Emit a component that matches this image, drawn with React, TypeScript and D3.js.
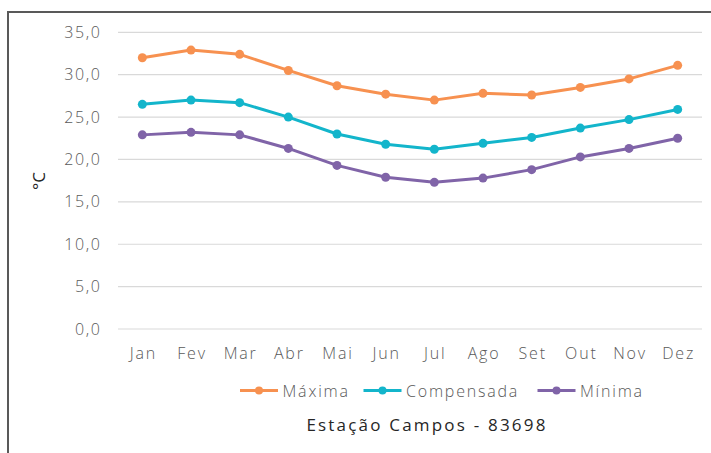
import React, { useEffect, useRef } from "react";
import * as d3 from "d3";

const months = ["Jan", "Fev", "Mar", "Abr", "Mai", "Jun", "Jul", "Ago", "Set", "Out", "Nov", "Dez"];
const maxima = [32.0, 32.9, 32.4, 30.5, 28.7, 27.7, 27.0, 27.8, 27.6, 28.5, 29.5, 31.1];
const compensada = [26.5, 27.0, 26.7, 25.0, 23.0, 21.8, 21.2, 21.9, 22.6, 23.7, 24.7, 25.9];
const minima = [22.9, 23.2, 22.9, 21.3, 19.3, 17.9, 17.3, 17.8, 18.8, 20.3, 21.3, 22.5];
const yTicks = [0, 5, 10, 15, 20, 25, 30, 35];
const seriesNames = ["Máxima", "Compensada", "Mínima"];
const seriesColors = ["#F79150", "#13B5CB", "#8064A8"];

const FONT = "'Open Sans', Lato, sans-serif";

export default function App() {
  const ref = useRef<SVGSVGElement>(null);

  useEffect(() => {
    const width = 711,
      height = 453;
    const left = 118,
      right = 702,
      top = 32.3,
      bottom = 329;

    const svg = d3.select(ref.current).attr("width", width).attr("height", height);
    svg.selectAll("*").remove();

    // frame (only top and left edges visible)
    svg.append("path").attr("d", "M8,453 L8,12 L711,12").attr("fill", "none").attr("stroke", "#595959").attr("stroke-width", 2);

    const x = d3.scaleBand().domain(months).range([left, right]);
    const y = d3.scaleLinear().domain([0, 35]).range([bottom, top]);

    const g = svg.append("g");

    g.selectAll(".grid")
      .data(yTicks)
      .join("line")
      .attr("x1", left)
      .attr("x2", right)
      .attr("y1", (d) => y(d))
      .attr("y2", (d) => y(d))
      .attr("stroke", "#D9D9D9")
      .attr("stroke-width", 1.2);

    g.selectAll(".ylab")
      .data(yTicks)
      .join("text")
      .attr("x", 101.5)
      .attr("y", (d) => y(d) + 5.5)
      .attr("text-anchor", "end")
      .style("font-family", FONT)
      .style("font-size", "16px")
      .style("font-weight", 300)
      .style("letter-spacing", "1.6px")
      .attr("fill", "#595959")
      .text((d) => d.toFixed(1).replace(".", ","));

    g.selectAll(".xlab")
      .data(months)
      .join("text")
      .attr("x", (d) => x(d)! + x.bandwidth() / 2 + 1)
      .attr("y", 359)
      .attr("text-anchor", "middle")
      .style("font-family", FONT)
      .style("font-size", "16px")
      .style("font-weight", 300)
      .style("letter-spacing", "1.8px")
      .attr("fill", "#595959")
      .text((d) => d);

    g.append("text")
      .attr("transform", "translate(45,181) rotate(-90)")
      .attr("text-anchor", "middle")
      .style("font-family", FONT)
      .style("font-size", "17px")
      .attr("fill", "#262626")
      .text("°C");

    const allSeries = [maxima, compensada, minima];
    const line = d3
      .line<number>()
      .x((_, i) => x(months[i])! + x.bandwidth() / 2)
      .y((d) => y(d));

    allSeries.forEach((vals, si) => {
      g.append("path").datum(vals).attr("d", line).attr("fill", "none").attr("stroke", seriesColors[si]).attr("stroke-width", 3).attr("stroke-linejoin", "round");
      g.selectAll(`.pt${si}`)
        .data(vals)
        .join("circle")
        .attr("cx", (_, i) => x(months[i])! + x.bandwidth() / 2)
        .attr("cy", (d) => y(d))
        .attr("r", 4.5)
        .attr("fill", seriesColors[si]);
    });

    // legend
    const legendX = [240, 363.5, 537.5];
    const legendY = 390.5;
    seriesNames.forEach((name, i) => {
      const lx = legendX[i];
      g.append("line").attr("x1", lx).attr("x2", lx + 38).attr("y1", legendY).attr("y2", legendY).attr("stroke", seriesColors[i]).attr("stroke-width", 3);
      g.append("circle").attr("cx", lx + 19).attr("cy", legendY).attr("r", 4).attr("fill", seriesColors[i]);
      g.append("text")
        .attr("x", lx + 42.5)
        .attr("y", legendY + 6)
        .style("font-family", FONT)
        .style("font-size", "16px")
        .style("font-weight", 300)
        .style("letter-spacing", "1.8px")
        .attr("fill", "#595959")
        .text(name);
    });

    g.append("text")
      .attr("x", 427)
      .attr("y", 431)
      .attr("text-anchor", "middle")
      .style("font-family", FONT)
      .style("font-size", "17px")
      .style("letter-spacing", "2.2px")
      .attr("fill", "#262626")
      .text("Estação Campos - 83698");
  }, []);

  return <svg ref={ref} style={{ position: "absolute", left: 0, top: 0, background: "#fff" }} />;
}
